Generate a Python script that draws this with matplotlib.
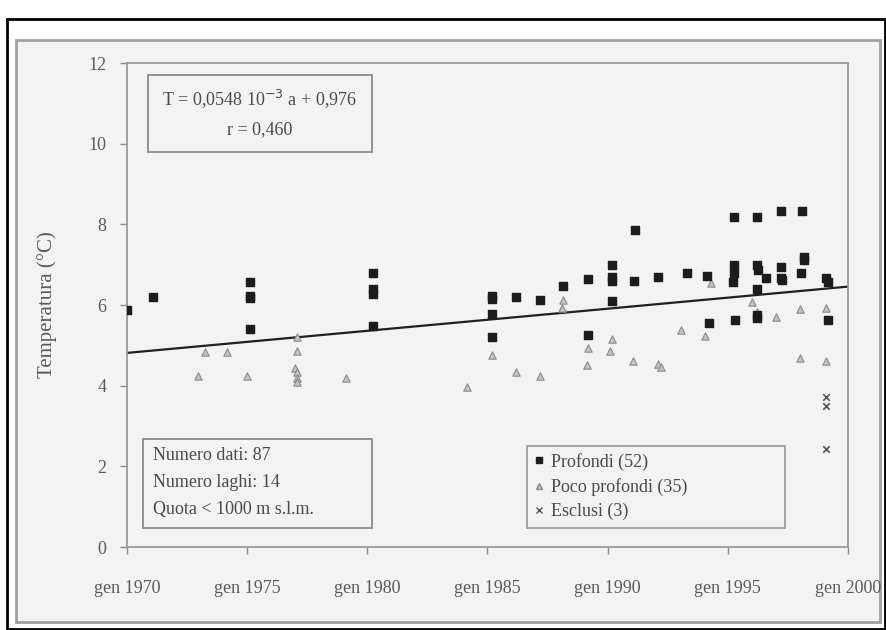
import matplotlib.pyplot as plt
from matplotlib.patches import Rectangle
from matplotlib.lines import Line2D

plt.rcParams['font.family'] = ['Liberation Serif', 'DejaVu Serif']

# Profondi (52) - year (decimal), temperature
prof_year = [1970.0, 1971.1,
             1975.1, 1975.1, 1975.1, 1975.1,
             1980.25, 1980.25, 1980.25, 1980.25,
             1985.18, 1985.18, 1985.18, 1985.18,
             1986.2, 1987.2, 1988.15, 1989.2, 1989.2,
             1990.17, 1990.17, 1990.17, 1990.17,
             1991.15, 1991.1, 1992.1, 1993.3, 1994.15, 1994.2,
             1995.26, 1995.26, 1995.26, 1995.2, 1995.3,
             1996.2, 1996.2, 1996.25, 1996.2, 1996.2, 1996.2, 1996.6,
             1997.2, 1997.2, 1997.2, 1997.25,
             1998.1, 1998.15, 1998.15, 1998.05,
             1999.1, 1999.15, 1999.15]
prof_temp = [5.88, 6.21,
             6.56, 6.23, 6.17, 5.40,
             6.79, 6.40, 6.27, 5.49,
             6.22, 6.15, 5.78, 5.20,
             6.19, 6.13, 6.48, 6.65, 5.26,
             6.98, 6.70, 6.60, 6.10,
             7.86, 6.60, 6.69, 6.79, 6.72, 5.55,
             8.18, 7.00, 6.79, 6.58, 5.63,
             8.18, 7.00, 6.87, 6.39, 5.76, 5.67, 6.67,
             8.34, 6.94, 6.67, 6.62,
             8.34, 7.20, 7.12, 6.79,
             6.67, 6.56, 5.63]

# Poco profondi (35)
poco_year = [1972.95, 1973.25, 1974.15, 1975.0,
             1977.06, 1977.06, 1977.0, 1977.06, 1977.06, 1977.06,
             1979.1, 1984.14, 1985.18, 1986.2, 1987.2,
             1988.15, 1988.1, 1989.2, 1989.15, 1990.17, 1990.1,
             1991.05, 1992.1, 1992.2, 1993.05, 1994.05, 1994.3,
             1996.0, 1996.2, 1996.2, 1997.0, 1998.0, 1998.0,
             1999.1, 1999.1]
poco_temp = [4.23, 4.84, 4.84, 4.23,
             5.20, 4.87, 4.45, 4.35, 4.20, 4.08,
             4.18, 3.96, 4.76, 4.33, 4.23,
             6.13, 5.92, 4.93, 4.52, 5.16, 4.85,
             4.61, 4.53, 4.47, 5.39, 5.22, 6.54,
             6.08, 5.83, 5.75, 5.71, 5.90, 4.69,
             5.92, 4.61]

# Esclusi (3)
escl_year = [1999.1, 1999.1, 1999.1]
escl_temp = [3.72, 3.50, 2.42]

# regression
slope = 0.0548
intercept = 0.976
line_years = [1970, 2000]

xticks = [1970, 1975, 1980, 1985, 1990, 1995, 2000]
xlabels = ['gen ' + str(y) for y in xticks]

W, H = 887, 630
fig = plt.figure(figsize=(W / 100, H / 100), dpi=100)
fig.patch.set_facecolor('white')

def fbox(x0, y0, x1, y1):
    return (x0 / W, 1 - y1 / H), (x1 - x0) / W, (y1 - y0) / H

# scanned page frames
xy, w, h = fbox(16, 40, 880, 622)
fig.patches.append(Rectangle(xy, w, h, transform=fig.transFigure, zorder=-10,
                             facecolor='#f3f3f3', edgecolor='#a0a0a0', lw=2))
xy, w, h = fbox(7, 19, 885, 629)
fig.patches.append(Rectangle(xy, w, h, transform=fig.transFigure, zorder=-9,
                             fill=False, edgecolor='black', lw=2))

ax = fig.add_axes([127 / W, 1 - 547 / H, (848 - 127) / W, (547 - 63) / H])
ax.set_facecolor('#f3f3f3')

ax.scatter(prof_year, prof_temp, marker='s', s=26, color='#1c1c1c', zorder=4)
ax.scatter(poco_year, poco_temp, marker='^', s=28, facecolor='#c4c4c4',
           edgecolor='#8a8a8a', linewidth=0.8, zorder=3)
ax.scatter(escl_year, escl_temp, marker='x', s=22, color='#555555',
           linewidth=1.2, zorder=3)

ly = [slope * (y - 1900) + intercept for y in line_years]
ax.plot(line_years, ly, color='#202020', lw=1.6, zorder=2)

ax.set_xlim(1970, 2000)
ax.set_ylim(0, 12)
ax.set_xticks(xticks)
ax.set_xticklabels(xlabels)
ax.set_yticks(range(0, 13, 2))
ax.tick_params(colors='#8a8a8a', labelcolor='#5a5a5a', labelsize=13,
               length=5, width=1)
ax.tick_params(axis='x', pad=19)
ax.tick_params(axis='y', pad=10)
for s in ax.spines.values():
    s.set_color('#9a9a9a')
    s.set_linewidth(1.3)
ax.set_ylabel('Temperatura (°C)', fontsize=15, color='#5a5a5a', labelpad=22)

# equation box
ax.add_patch(Rectangle((0.029, 0.816), 0.311, 0.159, transform=ax.transAxes,
                       fill=False, edgecolor='#8a8a8a', lw=1.3))
ax.text(0.184, 0.927, 'T = 0,0548 10$^{-3}$ a + 0,976', transform=ax.transAxes,
        ha='center', va='center', fontsize=13, color='#4a4a4a')
ax.text(0.184, 0.863, 'r = 0,460', transform=ax.transAxes,
        ha='center', va='center', fontsize=13, color='#4a4a4a')

# info box
ax.add_patch(Rectangle((0.022, 0.04), 0.318, 0.183, transform=ax.transAxes,
                       fill=False, edgecolor='#8a8a8a', lw=1.3))
info = ['Numero dati: 87', 'Numero laghi: 14', 'Quota < 1000 m s.l.m.']
for i, t in enumerate(info):
    ax.text(0.036, 0.19 - i * 0.056, t, transform=ax.transAxes,
            ha='left', va='center', fontsize=13, color='#4a4a4a')

# legend
handles = [
    Line2D([], [], ls='', marker='s', ms=4, color='#1c1c1c'),
    Line2D([], [], ls='', marker='^', ms=4, markerfacecolor='#c4c4c4',
           markeredgecolor='#8a8a8a'),
    Line2D([], [], ls='', marker='x', ms=4, color='#555555'),
]
leg = ax.legend(handles, ['Profondi (52)', 'Poco profondi (35)', 'Esclusi (3)'],
                loc='lower left', bbox_to_anchor=(0.555, 0.04, 0.358, 0.183),
                mode='expand', fontsize=13, frameon=True, fancybox=False,
                handlelength=0.5, handletextpad=0.4, labelspacing=0.4,
                borderpad=0.4, borderaxespad=0, labelcolor='#4a4a4a')
leg.get_frame().set_edgecolor('#8a8a8a')
leg.get_frame().set_facecolor('#f3f3f3')
leg.get_frame().set_linewidth(1.3)

fig.savefig('out.png', dpi=100, facecolor=fig.get_facecolor())
